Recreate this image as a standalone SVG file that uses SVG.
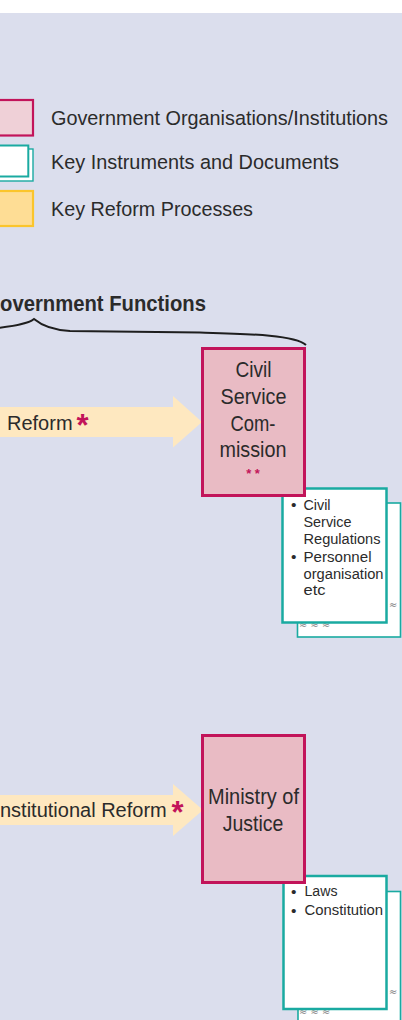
<svg xmlns="http://www.w3.org/2000/svg" width="402" height="1020" viewBox="0 0 402 1020">
  <style>
    .lbl { font-family: "Liberation Sans", Arial, sans-serif; fill: #2b2b2b; }
    .big { font-size: 22px; }
    .arrowlbl { font-size: 20px; }
    .doc { font-size: 15.5px; }
    .org { fill: #e9bbc4; stroke: #c2145a; stroke-width: 3; }
    .docf { fill: #ffffff; stroke: #1aaaa1; stroke-width: 2.5; }
    .docb { fill: #ffffff; stroke: #1aaaa1; stroke-width: 1.6; }
    .proc { fill: #fee8c0; }
    .star { font-family: "Liberation Sans", Arial, sans-serif; fill: #c2145a; font-weight: bold; }
    .wave { font-family: "DejaVu Sans", sans-serif; font-size: 10px; fill: #7a7a7a; }
  </style>

  <!-- page background -->
  <rect x="0" y="0" width="402" height="1020" fill="#ffffff"/>
  <rect x="0" y="13" width="402" height="1007" fill="#dbdeed"/>

  <!-- legend -->
  <g id="legend">
    <rect x="-5" y="100" width="38" height="35.5" fill="#efd0d7" stroke="#c2145a" stroke-width="2.2"/>
    <rect x="-5" y="149" width="38" height="32" fill="#ffffff" stroke="#1aaaa1" stroke-width="1.4"/>
    <rect x="-5" y="145.5" width="33.3" height="31" fill="#ffffff" stroke="#1aaaa1" stroke-width="2"/>
    <rect x="-5" y="191" width="38" height="35" fill="#fedd95" stroke="#fbc52c" stroke-width="2.2"/>
    <text class="lbl" x="51" y="125" font-size="20.5" textLength="337" lengthAdjust="spacingAndGlyphs">Government Organisations/Institutions</text>
    <text class="lbl" x="51" y="169" font-size="20.5" textLength="288" lengthAdjust="spacingAndGlyphs">Key Instruments and Documents</text>
    <text class="lbl" x="51" y="216" font-size="20.5" textLength="202" lengthAdjust="spacingAndGlyphs">Key Reform Processes</text>
  </g>

  <!-- heading with brace -->
  <g id="heading">
    <text class="lbl" x="0" y="311" font-size="21.5" font-weight="bold" textLength="206" lengthAdjust="spacingAndGlyphs">overnment Functions</text>
  </g>

  <g id="connectors">
    <path d="M -2 328 C 14 326 28 324 34 319 C 40 324 52 330 70 331 L 200 332.5 C 250 334 295 335 306 345" fill="none" stroke="#1e1e1e" stroke-width="2"/>
  </g>

  <!-- reform processes -->
  <g id="civil-service-reform">
    <path class="proc" d="M -5 407 L 173 407 L 173 396 L 202 422 L 173 447.5 L 173 437 L -5 437 Z"/>
    <text class="lbl arrowlbl" x="7" y="429.5">Reform</text>
    <text class="star" x="76.5" y="436" font-size="31">*</text>
  </g>

  <g id="constitutional-reform">
    <path class="proc" d="M -5 795 L 173 795 L 173 784 L 203 810 L 173 836 L 173 825 L -5 825 Z"/>
    <text class="lbl arrowlbl" x="0" y="817">nstitutional Reform</text>
    <text class="star" x="171.5" y="823" font-size="31">*</text>
  </g>

  <!-- instruments and documents -->
  <g id="civil-service-documents">
    <rect class="docb" x="297.5" y="503" width="103" height="134"/>
    <text class="wave" x="389" y="608">≈</text>
    <text class="wave" x="299" y="627.5">≈ ≈ ≈</text>
    <rect class="docf" x="282.5" y="488.5" width="104" height="134"/>
    <text class="lbl doc" x="291" y="510">•</text>
    <text class="lbl doc" x="303.5" y="509.5" textLength="27" lengthAdjust="spacingAndGlyphs">Civil</text>
    <text class="lbl doc" x="303.5" y="526.5" textLength="48" lengthAdjust="spacingAndGlyphs">Service</text>
    <text class="lbl doc" x="303.5" y="543.5" textLength="77" lengthAdjust="spacingAndGlyphs">Regulations</text>
    <text class="lbl doc" x="291" y="562">•</text>
    <text class="lbl doc" x="303.5" y="561.5" textLength="68" lengthAdjust="spacingAndGlyphs">Personnel</text>
    <text class="lbl doc" x="303.5" y="578.5" textLength="80" lengthAdjust="spacingAndGlyphs">organisation</text>
    <text class="lbl doc" x="303.5" y="595" textLength="22" lengthAdjust="spacingAndGlyphs">etc</text>
  </g>

  <g id="justice-documents">
    <rect class="docb" x="298" y="891.5" width="102.5" height="135"/>
    <text class="wave" x="389" y="995">≈</text>
    <text class="wave" x="299" y="1015">≈ ≈ ≈</text>
    <rect class="docf" x="283.5" y="876" width="103" height="133"/>
    <text class="lbl doc" x="291" y="896.5">•</text>
    <text class="lbl doc" x="304.5" y="896" textLength="33" lengthAdjust="spacingAndGlyphs">Laws</text>
    <text class="lbl doc" x="291" y="915.5">•</text>
    <text class="lbl doc" x="304.5" y="915" textLength="78.5" lengthAdjust="spacingAndGlyphs">Constitution</text>
  </g>

  <!-- organisations -->
  <g id="civil-service-commission">
    <rect class="org" x="202.5" y="348.5" width="102" height="147"/>
    <text class="lbl big" x="253.5" y="377" text-anchor="middle" textLength="36" lengthAdjust="spacingAndGlyphs">Civil</text>
    <text class="lbl big" x="253.5" y="404" text-anchor="middle" textLength="66" lengthAdjust="spacingAndGlyphs">Service</text>
    <text class="lbl big" x="253" y="430.5" text-anchor="middle" textLength="45" lengthAdjust="spacingAndGlyphs">Com-</text>
    <text class="lbl big" x="253" y="457" text-anchor="middle" textLength="67" lengthAdjust="spacingAndGlyphs">mission</text>
    <text class="star" x="253" y="478" font-size="13" text-anchor="middle" font-weight="normal">* *</text>
  </g>

  <g id="ministry-of-justice">
    <rect class="org" x="202.5" y="735.5" width="102" height="147"/>
    <text class="lbl big" x="253.5" y="803.5" text-anchor="middle" textLength="91" lengthAdjust="spacingAndGlyphs">Ministry of</text>
    <text class="lbl big" x="253" y="830.5" text-anchor="middle" textLength="60.5" lengthAdjust="spacingAndGlyphs">Justice</text>
  </g>
</svg>
